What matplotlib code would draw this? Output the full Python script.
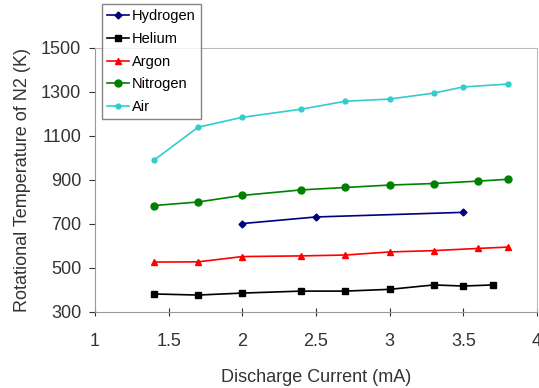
# Rotational temperature of N2 vs discharge current for different gases

import matplotlib.pyplot as plt
import numpy as np

plt.rcParams['font.family'] = ['Liberation Sans', 'DejaVu Sans']

x_h2 = [2.0, 2.5, 3.5]
t_h2 = [702, 732, 753]

x_he = [1.4, 1.7, 2.0, 2.4, 2.7, 3.0, 3.3, 3.5, 3.7]
t_he = [382, 377, 386, 395, 395, 403, 423, 418, 423]

x_ar = [1.4, 1.7, 2.0, 2.4, 2.7, 3.0, 3.3, 3.6, 3.8]
t_ar = [527, 528, 552, 555, 559, 573, 579, 589, 595]

x_n2 = [1.4, 1.7, 2.0, 2.4, 2.7, 3.0, 3.3, 3.6, 3.8]
t_n2 = [784, 800, 830, 855, 866, 877, 884, 895, 903]

x_air = [1.4, 1.7, 2.0, 2.4, 2.7, 3.0, 3.3, 3.5, 3.8]
t_air = [990, 1140, 1185, 1222, 1258, 1268, 1295, 1323, 1336]

fig = plt.figure(figsize=(5.39, 3.88), dpi=100)
ax = fig.add_axes([95/539, 1 - 312/388, 442/539, 264/388])

ax.plot(x_h2, t_h2, color='#000080', marker='D', ms=3.5, lw=1.2, label='Hydrogen')
ax.plot(x_he, t_he, color='black', marker='s', ms=5, lw=1.2, label='Helium')
ax.plot(x_ar, t_ar, color='red', marker='^', ms=5, lw=1.2, label='Argon')
ax.plot(x_n2, t_n2, color='#008000', marker='o', ms=5, lw=1.2, label='Nitrogen')
ax.plot(x_air, t_air, color='#33cccc', marker='o', ms=3.5, lw=1.2, label='Air')

ax.set_xlim(1, 4)
ax.set_ylim(300, 1500)
ax.set_xticks([1, 1.5, 2, 2.5, 3, 3.5, 4])
ax.set_xticklabels(['1', '1.5', '2', '2.5', '3', '3.5', '4'])
ax.set_yticks(np.arange(300, 1501, 200))
ax.tick_params(labelsize=13, colors='#333333', length=4, direction='out')
ax.tick_params(axis='x', direction='inout', length=6, pad=12)
ax.tick_params(axis='y', pad=6)
for s in ['left', 'bottom']:
    ax.spines[s].set_color('#999999')
for s in ['top', 'right']:
    ax.spines[s].set_color('#bbbbbb')

ax.set_xlabel('Discharge Current (mA)', fontsize=13, color='#333333', labelpad=14)
ax.set_ylabel('Rotational Temperature of N2 (K)', fontsize=13, color='#333333', labelpad=7)

fig.legend(loc='upper left', bbox_to_anchor=(102/539, 1 - 4/388), fontsize=10.5,
           frameon=True, fancybox=False, edgecolor='#666666', borderpad=0.35,
           labelspacing=0.6, handlelength=1.5, handletextpad=0.2, borderaxespad=0)

fig.savefig('out.png', dpi=100)
